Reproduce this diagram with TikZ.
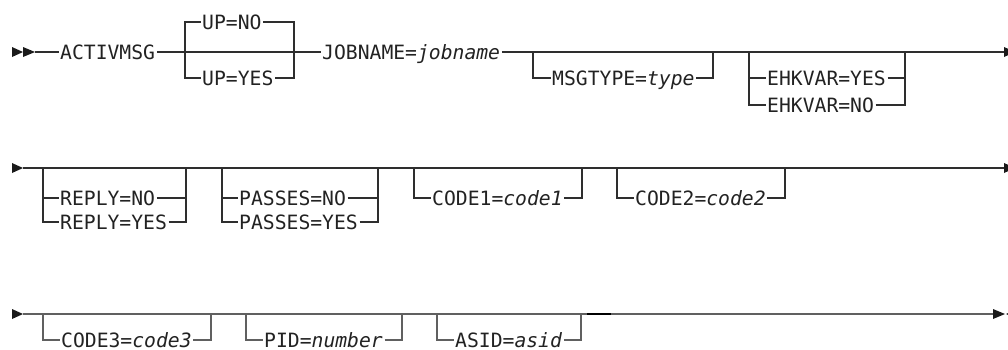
\documentclass[tikz,border=0pt]{standalone}
\usepackage{fontspec}
\setmainfont{DejaVu Sans Mono}
\definecolor{lc}{HTML}{2E2E2E}
\definecolor{lcg}{HTML}{606060}
\definecolor{txt}{HTML}{222222}
\definecolor{tipc}{HTML}{1A1A1A}
\tikzset{
  lbl/.style={inner xsep=1.5pt, inner ysep=0pt, text height=14.4pt, text depth=0pt,
    anchor=west, font=\fontsize{19.7}{22}\selectfont, text=txt},
  ln/.style={line width=1.1pt, draw=lc},
  lng/.style={line width=1.1pt, draw=lcg},
  tipfill/.style={fill=tipc, draw=none},
}
\begin{document}
\begin{tikzpicture}[x=1pt,y=-1pt]
\useasboundingbox (0,0) rectangle (1008,349);
% ---------- row 1 ----------
\coordinate (s1) at (35,52);
\fill[tipfill] (12,47) -- (23,52) -- (12,57) -- cycle;
\fill[tipfill] (23,47) -- (35,52) -- (23,57) -- cycle;
\node[lbl] (activ) at (58.5,52) {ACTIVMSG};
\coordinate (upL) at (185,52);
\coordinate (upR) at (294,52);
\node[lbl] (upno) at (200.5,22) {UP=NO};
\node[lbl] (upyes) at (200.5,78) {UP=YES};
\node[lbl] (job) at (320.5,52) {JOBNAME=\textit{jobname}};
\coordinate (msL) at (533,52);
\coordinate (msR) at (713,52);
\node[lbl] (msg) at (550.5,78) {MSGTYPE=\textit{type}};
\coordinate (ehL) at (749,52);
\coordinate (ehR) at (905,52);
\node[lbl] (ehy) at (765.5,78) {EHKVAR=YES};
\node[lbl] (ehn) at (765.5,105) {EHKVAR=NO};
\coordinate (e1) at (1004,52);

\draw[ln] (s1) -- (activ.west);
\draw[ln] (activ.east) -- (upL) -- (upR) -- (job.west);
\draw[ln] (upno.west) -| (upL);
\draw[ln] (upyes.west) -| (upL);
\draw[ln] (upno.east) -| (upR);
\draw[ln] (upyes.east) -| (upR);
\draw[ln] (job.east) -- (e1);
\draw[ln] (msg.west) -| (msL);
\draw[ln] (msg.east) -| (msR);
\draw[ln] (ehy.west) -| (ehL);
\draw[ln] (ehn.west) -| (ehL);
\draw[ln] (ehy.east) -| (ehR);
\draw[ln] (ehn.east) -| (ehR);
\fill[tipfill] (e1) ++(0,-5) -- ++(11,5) -- ++(-11,5) -- cycle;

% ---------- row 2 ----------
\coordinate (s2) at (23,168);
\fill[tipfill] (12,163) -- (23,168) -- (12,173) -- cycle;
\coordinate (rpL) at (43,168);
\coordinate (rpR) at (186,168);
\node[lbl] (rno) at (58.5,198) {REPLY=NO};
\node[lbl] (ryes) at (58.5,222) {REPLY=YES};
\coordinate (paL) at (222,168);
\coordinate (paR) at (378,168);
\node[lbl] (pno) at (237.5,198) {PASSES=NO};
\node[lbl] (pyes) at (237.5,222) {PASSES=YES};
\coordinate (c1L) at (414,168);
\coordinate (c1R) at (582,168);
\node[lbl] (c1) at (430.5,198) {CODE1=\textit{code1}};
\coordinate (c2L) at (617,168);
\coordinate (c2R) at (785,168);
\node[lbl] (c2) at (633.5,198) {CODE2=\textit{code2}};
\coordinate (e2) at (1004,168);

\draw[ln] (s2) -- (e2);
\draw[ln] (rno.west) -| (rpL);
\draw[ln] (ryes.west) -| (rpL);
\draw[ln] (rno.east) -| (rpR);
\draw[ln] (ryes.east) -| (rpR);
\draw[ln] (pno.west) -| (paL);
\draw[ln] (pyes.west) -| (paL);
\draw[ln] (pno.east) -| (paR);
\draw[ln] (pyes.east) -| (paR);
\draw[ln] (c1.west) -| (c1L);
\draw[ln] (c1.east) -| (c1R);
\draw[ln] (c2.west) -| (c2L);
\draw[ln] (c2.east) -| (c2R);
\fill[tipfill] (e2) ++(0,-5) -- ++(11,5) -- ++(-11,5) -- cycle;

% ---------- row 3 ----------
\coordinate (s3) at (23,314);
\fill[tipfill] (12,309) -- (23,314) -- (12,319) -- cycle;
\coordinate (c3L) at (43,314);
\coordinate (c3R) at (211,314);
\node[lbl] (c3) at (59.5,340) {CODE3=\textit{code3}};
\coordinate (piL) at (246,314);
\coordinate (piR) at (402,314);
\node[lbl] (pid) at (262.5,340) {PID=\textit{number}};
\coordinate (asL) at (437,314);
\coordinate (asR) at (581,314);
\node[lbl] (asid) at (453.5,340) {ASID=\textit{asid}};
\coordinate (bk1) at (587,314);
\coordinate (bk2) at (611,314);
\coordinate (e3) at (993,314);

\draw[lng] (s3) -- (e3);
\draw[line width=1.1pt, draw=black] (bk1) -- (bk2);
\draw[lng] (c3.west) -| (c3L);
\draw[lng] (c3.east) -| (c3R);
\draw[lng] (pid.west) -| (piL);
\draw[lng] (pid.east) -| (piR);
\draw[lng] (asid.west) -| (asL);
\draw[lng] (asid.east) -| (asR);
\fill[tipfill] (e3) ++(0,-5) -- ++(12,5) -- ++(-12,5) -- cycle;
\fill[tipfill] (e3) ++(13,0) -- ++(11,-5) -- ++(0,10) -- cycle;
\end{tikzpicture}
\end{document}
